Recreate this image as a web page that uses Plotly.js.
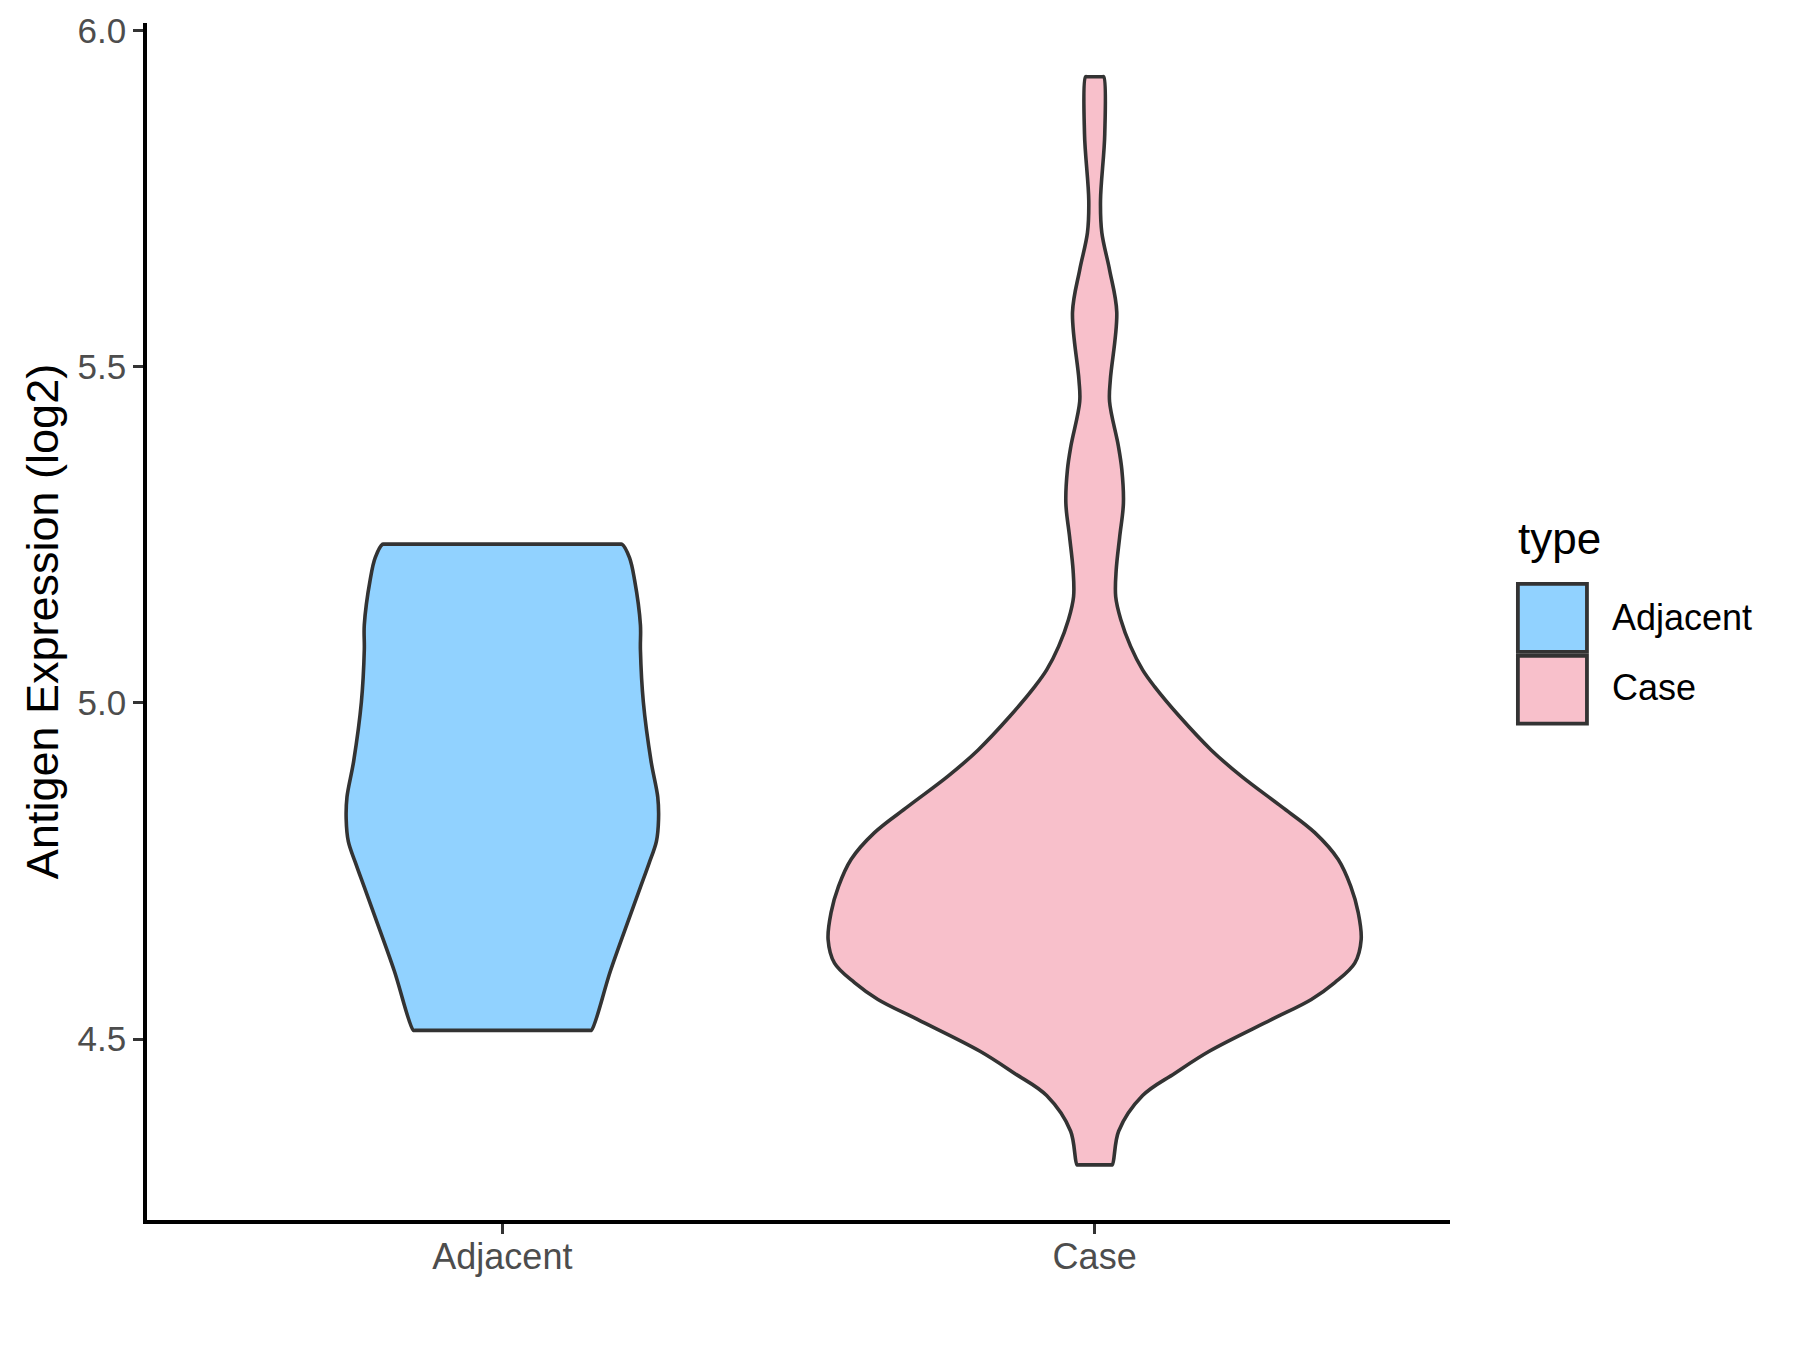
<!DOCTYPE html>
<html>
<head>
<meta charset="utf-8">
<script src="https://cdn.plot.ly/plotly-3.0.1.min.js"></script>
<style>html,body{margin:0;padding:0;background:#fff;}#chart{width:1800px;height:1350px;}</style>
</head>
<body>
<div id="chart"></div>
<script>
// Categories and tick labels
const categories = ['Adjacent', 'Case'];
const yTickVals = [4.5, 5.0, 5.5, 6.0];
const yTickText = ['4.5', '5.0', '5.5', '6.0'];
const fillColors = ['#91D2FF', '#F8C0CB'];

// Violin outlines: expression value (log2) and relative density (max = 1)
const adjacentY = [5.236, 5.216, 5.183, 5.116, 5.079, 5.001, 4.913, 4.860, 4.827, 4.794, 4.761, 4.727, 4.681, 4.602, 4.513];
const adjacentDensity = [0.449, 0.477, 0.496, 0.518, 0.518, 0.529, 0.558, 0.583, 0.586, 0.578, 0.550, 0.519, 0.477, 0.406, 0.334];

const caseY = [5.931, 5.846, 5.747, 5.699, 5.644, 5.581, 5.481, 5.448, 5.382, 5.347, 5.297, 5.247, 5.198, 5.158, 5.124, 5.084, 5.049, 5.0245, 4.980, 4.930, 4.891, 4.846, 4.807, 4.767, 4.727, 4.688, 4.648, 4.613, 4.584, 4.559, 4.529, 4.482, 4.449, 4.416, 4.363, 4.313];
const caseDensity = [0.034, 0.038, 0.022, 0.027, 0.056, 0.083, 0.059, 0.056, 0.089, 0.102, 0.108, 0.094, 0.081, 0.079, 0.098, 0.135, 0.180, 0.224, 0.318, 0.437, 0.550, 0.700, 0.826, 0.914, 0.961, 0.989, 1.000, 0.976, 0.901, 0.813, 0.663, 0.430, 0.300, 0.180, 0.090, 0.066];

const maxHalfWidth = 0.45; // violin width 0.9 in category units
const capInset = 0.003;    // keeps the flat end caps straight under spline smoothing

function violinTrace(pos, ys, dens, color, name) {
  const n = ys.length;
  const wTop = dens[0] * maxHalfWidth, wBot = dens[n - 1] * maxHalfWidth;
  const x = [], y = [];
  // right side, top -> bottom
  for (let i = 0; i < n; i++) { x.push(pos + dens[i] * maxHalfWidth); y.push(ys[i]); }
  // flat bottom cap
  x.push(pos + wBot - capInset, pos - wBot + capInset); y.push(ys[n - 1], ys[n - 1]);
  // left side, bottom -> top
  for (let i = n - 1; i >= 0; i--) { x.push(pos - dens[i] * maxHalfWidth); y.push(ys[i]); }
  // flat top cap
  x.push(pos - wTop + capInset, pos + wTop - capInset); y.push(ys[0], ys[0]);
  x.push(x[0]); y.push(y[0]);
  return {
    type: 'scatter', mode: 'lines', x: x, y: y, name: name,
    fill: 'toself', fillcolor: color,
    line: {color: '#333333', width: 3.6, shape: 'spline', smoothing: 1.0},
    hoverinfo: 'skip', showlegend: false
  };
}

const traces = [
  violinTrace(1, adjacentY, adjacentDensity, fillColors[0], categories[0]),
  violinTrace(2, caseY, caseDensity, fillColors[1], categories[1])
];

const FONT = 'Liberation Sans, Arial, sans-serif';

// manual legend (ggplot style)
const shapes = [];
const annotations = [];
const keyX0 = 1.0521, keyX1 = 1.1051;
const keyY = [[0.4747, 0.5315], [0.4146, 0.4714]];
const labelY = [0.5031, 0.4447];
categories.forEach((c, i) => {
  shapes.push({type: 'rect', xref: 'paper', yref: 'paper', x0: keyX0, x1: keyX1, y0: keyY[i][0], y1: keyY[i][1],
    fillcolor: fillColors[i], line: {color: '#333333', width: 3.8}});
  annotations.push({xref: 'paper', yref: 'paper', x: 1.1228, y: labelY[i], xanchor: 'left', yanchor: 'middle',
    text: c, showarrow: false, font: {family: FONT, size: 36, color: '#000000'}});
});
annotations.push({xref: 'paper', yref: 'paper', x: 1.0505, y: 0.569, xanchor: 'left', yanchor: 'middle',
  text: 'type', showarrow: false, font: {family: FONT, size: 44, color: '#000000'}});

const layout = {
  width: 1800, height: 1350,
  margin: {l: 147, r: 350, t: 23, b: 129.5},
  paper_bgcolor: '#FFFFFF', plot_bgcolor: '#FFFFFF',
  font: {family: FONT},
  showlegend: false,
  xaxis: {
    range: [0.4, 2.6], tickmode: 'array', tickvals: [1, 2], ticktext: categories,
    showline: true, linecolor: '#000000', linewidth: 3.8, mirror: false,
    ticks: 'outside', ticklen: 10, tickwidth: 3, tickcolor: '#333333',
    ticklabelstandoff: -8,
    tickfont: {family: FONT, size: 36, color: '#4D4D4D'},
    showgrid: false, zeroline: false, fixedrange: true
  },
  yaxis: {
    range: [4.231, 6.011], tickmode: 'array', tickvals: yTickVals, ticktext: yTickText,
    showline: true, linecolor: '#000000', linewidth: 3.8,
    ticks: 'outside', ticklen: 10, tickwidth: 3, tickcolor: '#333333',
    tickfont: {family: FONT, size: 35, color: '#4D4D4D'},
    showgrid: false, zeroline: false, fixedrange: true,
    title: {text: 'Antigen Expression (log2)', font: {family: FONT, size: 45, color: '#000000'}, standoff: 6}
  },
  shapes: shapes,
  annotations: annotations
};

Plotly.newPlot('chart', traces, layout, {staticPlot: true, displayModeBar: false});
</script>
</body>
</html>
